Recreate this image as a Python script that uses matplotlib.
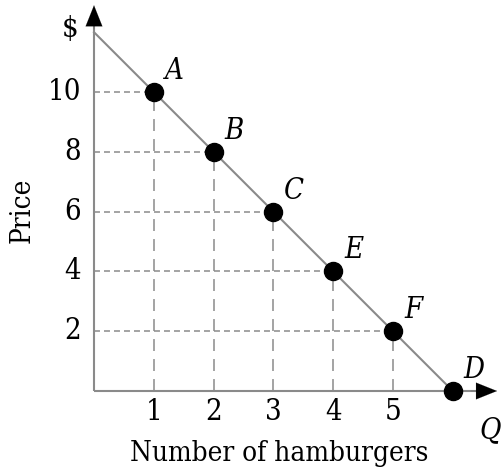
import matplotlib
matplotlib.use("Agg")
import matplotlib.pyplot as plt

plt.rcParams['lines.scale_dashes'] = False
plt.rcParams['font.family'] = ['DejaVu Serif']
plt.rcParams['font.stretch'] = 'condensed'

# Data
labels = ["A", "B", "C", "E", "F", "D"]
quantity = [1, 2, 3, 4, 5, 6]
price = [10, 8, 6, 4, 2, 0]
line_q = [0, 6]
line_p = [12, 0]
xticks = [1, 2, 3, 4, 5]
yticks = [2, 4, 6, 8, 10]

W, H = 502, 473
fig = plt.figure(figsize=(W / 100, H / 100), dpi=100)
x0, y0 = 94, 391
ppx, ppy = 59.8, 29.9
xmax, ymax = 6.85, 13.0
ax = fig.add_axes([x0 / W, (H - y0) / H, xmax * ppx / W, ymax * ppy / H])
ax.set_xlim(0, xmax)
ax.set_ylim(0, ymax)
ax.axis('off')

gray = '#8a8a8a'
# dashed guide lines
for q, p in zip(quantity, price):
    if p > 0:
        ax.plot([0, q], [p, p], color=gray, lw=1.1, dashes=(4.3, 2.9), clip_on=False)
        ax.plot([q, q], [0, p], color=gray, lw=1.1, dashes=(8.6, 5.8), clip_on=False)

# axes
ax.plot([0, 0], [0, 12.2], color=gray, lw=1.5, clip_on=False, solid_capstyle='butt')
ax.plot([0, 6.45], [0, 0], color=gray, lw=1.5, clip_on=False, solid_capstyle='butt')
arrow_style = dict(arrowstyle='-|>,head_length=0.75,head_width=0.3', color='black', lw=0.1,
                   shrinkA=0, shrinkB=0, mutation_scale=20)
ax.annotate('', xy=(0, 12.9), xytext=(0, 12.1), arrowprops=arrow_style)
ax.annotate('', xy=(6.74, 0), xytext=(6.3, 0), arrowprops=arrow_style)

# demand line
ax.plot(line_q, line_p, color=gray, lw=1.5, clip_on=False)

# points
ax.plot(quantity, price, 'o', color='black', ms=13, clip_on=False, zorder=5)
fs = 20
for lab, q, p in zip(labels, quantity, price):
    ax.text(q + 0.35, p + 0.7, lab, fontsize=fs + 1, style='italic', ha='center', va='center')

for t in xticks:
    ax.text(t, -0.7, str(t), fontsize=fs + 1, ha='center', va='center')
for t in yticks:
    ax.text(-0.22, t, str(t), fontsize=fs + 1, ha='right', va='center')

ax.text(-0.4, 12.1, '$', fontsize=fs + 1, ha='center', va='center')
ax.text(6.62, -1.3, 'Q', fontsize=fs + 1, style='italic', ha='center', va='center')
ax.text(3.1, -2.1, 'Number of hamburgers', fontsize=fs, ha='center', va='center')
ax.text(-1.2, 6.05, 'Price', fontsize=fs, ha='center', va='center', rotation=90)

fig.savefig('out.png', dpi=100)
